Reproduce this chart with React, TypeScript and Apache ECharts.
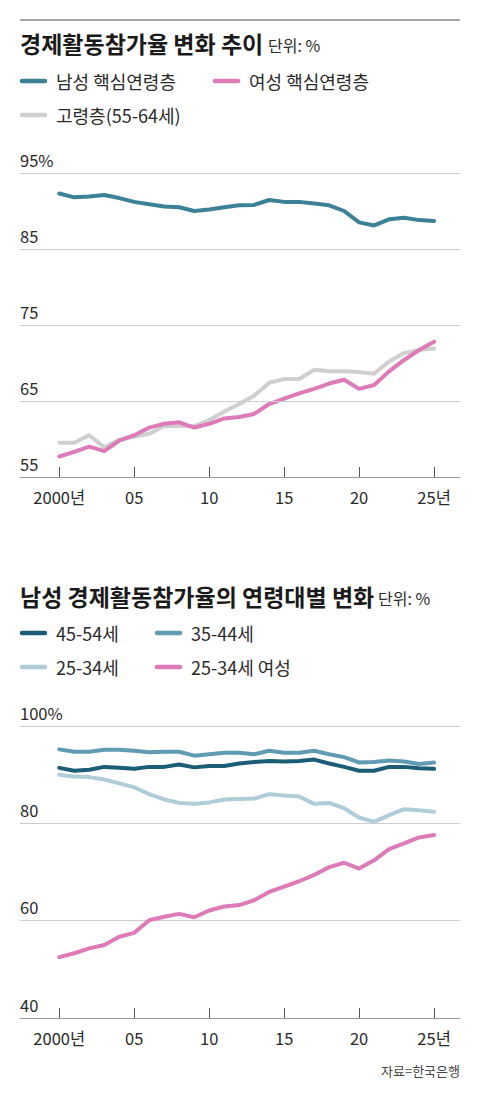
import React, { useEffect, useRef } from "react";
import * as echarts from "echarts";

// ---------- data ----------
const years = [
  2000, 2001, 2002, 2003, 2004, 2005, 2006, 2007, 2008, 2009, 2010, 2011, 2012,
  2013, 2014, 2015, 2016, 2017, 2018, 2019, 2020, 2021, 2022, 2023, 2024, 2025,
];

// chart 1: 경제활동참가율 변화 추이
const maleCore = [
  92.3, 91.8, 91.9, 92.1, 91.7, 91.2, 90.9, 90.6, 90.5, 90.0, 90.2, 90.5, 90.75,
  90.8, 91.45, 91.2, 91.2, 91.0, 90.75, 90.0, 88.5, 88.1, 88.9, 89.1, 88.8, 88.7,
];
const femaleCore = [
  57.7, 58.3, 59.0, 58.4, 59.8, 60.5, 61.5, 62.0, 62.2, 61.5, 62.0, 62.7, 62.9,
  63.3, 64.6, 65.3, 66.0, 66.6, 67.3, 67.8, 66.6, 67.1, 68.9, 70.4, 71.7, 72.8,
];
const elderly = [
  59.5, 59.5, 60.5, 58.9, 59.9, 60.3, 60.7, 61.7, 61.7, 61.7, 62.5, 63.6, 64.6,
  65.7, 67.4, 67.9, 67.9, 69.1, 68.9, 68.9, 68.8, 68.6, 70.2, 71.3, 71.7, 71.9,
];

// chart 2: 남성 경제활동참가율의 연령대별 변화
const male4554 = [
  91.4, 90.8, 91.0, 91.6, 91.4, 91.2, 91.6, 91.6, 92.1, 91.5, 91.8, 91.8, 92.3,
  92.6, 92.8, 92.7, 92.8, 93.1, 92.3, 91.6, 90.8, 90.8, 91.6, 91.6, 91.3, 91.2,
];
const male3544 = [
  95.2, 94.7, 94.7, 95.1, 95.1, 94.9, 94.6, 94.7, 94.7, 93.9, 94.2, 94.5, 94.5,
  94.2, 94.9, 94.5, 94.5, 94.9, 94.2, 93.6, 92.5, 92.6, 92.9, 92.7, 92.2, 92.5,
];
const male2534 = [
  90.0, 89.6, 89.5, 89.0, 88.2, 87.4, 86.0, 84.9, 84.2, 84.0, 84.3, 84.9, 85.0,
  85.1, 86.0, 85.7, 85.5, 84.0, 84.2, 83.1, 81.2, 80.3, 81.7, 82.9, 82.7, 82.4,
];
const female2534 = [
  52.5, 53.3, 54.3, 55.0, 56.7, 57.5, 60.1, 60.8, 61.4, 60.7, 62.1, 62.9, 63.2,
  64.2, 65.9, 67.0, 68.1, 69.4, 71.0, 71.9, 70.7, 72.4, 74.7, 75.9, 77.1, 77.6,
];

const xTickYears = [2000, 2005, 2010, 2015, 2020, 2025];
const xTickLabels = ["2000년", "05", "10", "15", "20", "25년"];
const yTicks1 = [55, 65, 75, 85, 95];
const yTicks2 = [40, 60, 80, 100];

const title1 = "경제활동참가율 변화 추이";
const title2 = "남성 경제활동참가율의 연령대별 변화";
const unitText = "단위: %";
const names1 = ["남성 핵심연령층", "여성 핵심연령층", "고령층(55-64세)"];
const names2 = ["45-54세", "35-44세", "25-34세", "25-34세 여성"];
const sourceText = "자료=한국은행";

// ---------- style ----------
const FONT = "'Noto Sans CJK KR', 'Noto Sans', sans-serif";
const C_MALE = "#3b8197";
const C_PINK = "#de7ab7";
const C_GRAY = "#cfcfcf";
const C_4554 = "#1b5d76";
const C_3544 = "#5f9bb3";
const C_2534 = "#afccd9";
const GRID_LINE = "#cccccc";
const AXIS_LINE = "#9a9a9a";
const TEXT = "#2a2a2a";

const X_MIN = 1997.38;
const X_MAX = 2026.73;

const pairs = (vals: number[]) => years.map((y, i) => [y, vals[i]]);

function xAxisFor(gridIndex: number) {
  return {
    type: "value",
    gridIndex,
    min: X_MIN,
    max: X_MAX,
    splitLine: { show: false },
    axisLine: { show: true, lineStyle: { color: AXIS_LINE, width: 1 } },
    axisTick: {
      show: true,
      inside: true,
      length: 10,
      customValues: xTickYears,
      lineStyle: { color: "#555", width: 1 },
    },
    axisLabel: {
      show: true,
      customValues: xTickYears,
      formatter: (v: number) => {
        const i = xTickYears.indexOf(Math.round(v));
        return i >= 0 ? xTickLabels[i] : "";
      },
      margin: 12,
      fontSize: 16.5,
      color: TEXT,
      fontFamily: FONT,
    },
  };
}

function lineSeries(
  name: string,
  vals: number[],
  color: string,
  axis: number,
  z: number
) {
  return {
    type: "line",
    name,
    data: pairs(vals),
    xAxisIndex: axis,
    yAxisIndex: axis,
    showSymbol: false,
    symbol: "none",
    z,
    lineStyle: { color, width: 4, cap: "round", join: "round" },
    emphasis: { disabled: true },
  };
}

function legendItem(x: number, y: number, color: string, label: string) {
  return [
    {
      type: "line",
      shape: { x1: x + 2, y1: y, x2: x + 25, y2: y },
      style: { stroke: color, lineWidth: 4.5, lineCap: "round" },
    },
    {
      type: "text",
      x: x + 36,
      y,
      style: {
        text: label,
        font: `18px ${FONT}`,
        fill: TEXT,
        textAlign: "left",
        textVerticalAlign: "middle",
        align: "left",
        verticalAlign: "middle",
      },
    },
  ];
}

function textEl(
  x: number,
  y: number,
  text: string,
  font: string,
  fill: string,
  align = "left"
) {
  return {
    type: "text",
    x,
    y,
    style: {
      text,
      font,
      fill,
      textAlign: align,
      textVerticalAlign: "middle",
      align,
      verticalAlign: "middle",
    },
  };
}

export default function App() {
  const ref = useRef<HTMLDivElement>(null);

  useEffect(() => {
    document.body.style.margin = "0";
    if (!ref.current) return;
    const chart = echarts.init(ref.current, undefined, { renderer: "svg" });

    const option: any = {
      animation: false,
      backgroundColor: "#ffffff",
      textStyle: { fontFamily: FONT },
      grid: [
        { left: 20, right: 20, top: 173, height: 304, containLabel: false },
        { left: 20, right: 20, top: 726, height: 292, containLabel: false },
      ],
      xAxis: [xAxisFor(0), xAxisFor(1)],
      yAxis: [
        {
          type: "value",
          gridIndex: 0,
          min: 55,
          max: 95,
          axisLine: { show: false },
          axisTick: { show: false },
          splitLine: { show: false },
          axisLabel: {
            inside: true,
            margin: 0,
            customValues: yTicks1,
            formatter: (v: number) => (v === 95 ? "95%" : String(v)),
            verticalAlign: "bottom",
            padding: [0, 0, 5, 0],
            fontSize: 16.5,
            color: TEXT,
            fontFamily: FONT,
          },
        },
        {
          type: "value",
          gridIndex: 1,
          min: 40,
          max: 100,
          interval: 20,
          axisLine: { show: false },
          axisTick: { show: false },
          splitLine: { show: false },
          axisLabel: {
            inside: true,
            margin: 0,
            customValues: yTicks2,
            formatter: (v: number) => (v === 100 ? "100%" : String(v)),
            verticalAlign: "bottom",
            padding: [0, 0, 5, 0],
            fontSize: 16.5,
            color: TEXT,
            fontFamily: FONT,
          },
        },
      ],
      series: [
        {
          type: "line",
          data: [],
          xAxisIndex: 0,
          yAxisIndex: 0,
          z: 1,
          silent: true,
          markLine: {
            silent: true,
            symbol: ["none", "none"],
            label: { show: false },
            lineStyle: { color: GRID_LINE, type: "solid", width: 1 },
            data: yTicks1.filter((v) => v > 55).map((v) => ({ yAxis: v })),
          },
        },
        {
          type: "line",
          data: [],
          xAxisIndex: 1,
          yAxisIndex: 1,
          z: 1,
          silent: true,
          markLine: {
            silent: true,
            symbol: ["none", "none"],
            label: { show: false },
            lineStyle: { color: GRID_LINE, type: "solid", width: 1 },
            data: yTicks2.filter((v) => v > 40).map((v) => ({ yAxis: v })),
          },
        },
        lineSeries(names1[2], elderly, C_GRAY, 0, 3),
        lineSeries(names1[1], femaleCore, C_PINK, 0, 4),
        lineSeries(names1[0], maleCore, C_MALE, 0, 5),
        lineSeries(names2[2], male2534, C_2534, 1, 3),
        lineSeries(names2[1], male3544, C_3544, 1, 4),
        lineSeries(names2[0], male4554, C_4554, 1, 5),
        lineSeries(names2[3], female2534, C_PINK, 1, 6),
      ],
      graphic: [
        {
          type: "line",
          shape: { x1: 20, y1: 20, x2: 460, y2: 20 },
          style: { stroke: "#8a8a8a", lineWidth: 1.5 },
        },
        textEl(20, 43, title1, `bold 23px ${FONT}`, "#1a1a1a"),
        textEl(268, 45, unitText, `16px ${FONT}`, TEXT),
        ...legendItem(20, 81, C_MALE, names1[0]),
        ...legendItem(213, 81, C_PINK, names1[1]),
        ...legendItem(20, 115, C_GRAY, names1[2]),

        textEl(20, 596, title2, `bold 23px ${FONT}`, "#1a1a1a"),
        textEl(378, 598, unitText, `16px ${FONT}`, TEXT),
        ...legendItem(20, 633, C_4554, names2[0]),
        ...legendItem(155, 633, C_3544, names2[1]),
        ...legendItem(20, 667, C_2534, names2[2]),
        ...legendItem(155, 667, C_PINK, names2[3]),

        textEl(460, 1070, sourceText, `13px ${FONT}`, "#444", "right"),
      ],
    };

    chart.setOption(option);
    return () => chart.dispose();
  }, []);

  return <div ref={ref} style={{ width: 480, height: 1100 }} />;
}
